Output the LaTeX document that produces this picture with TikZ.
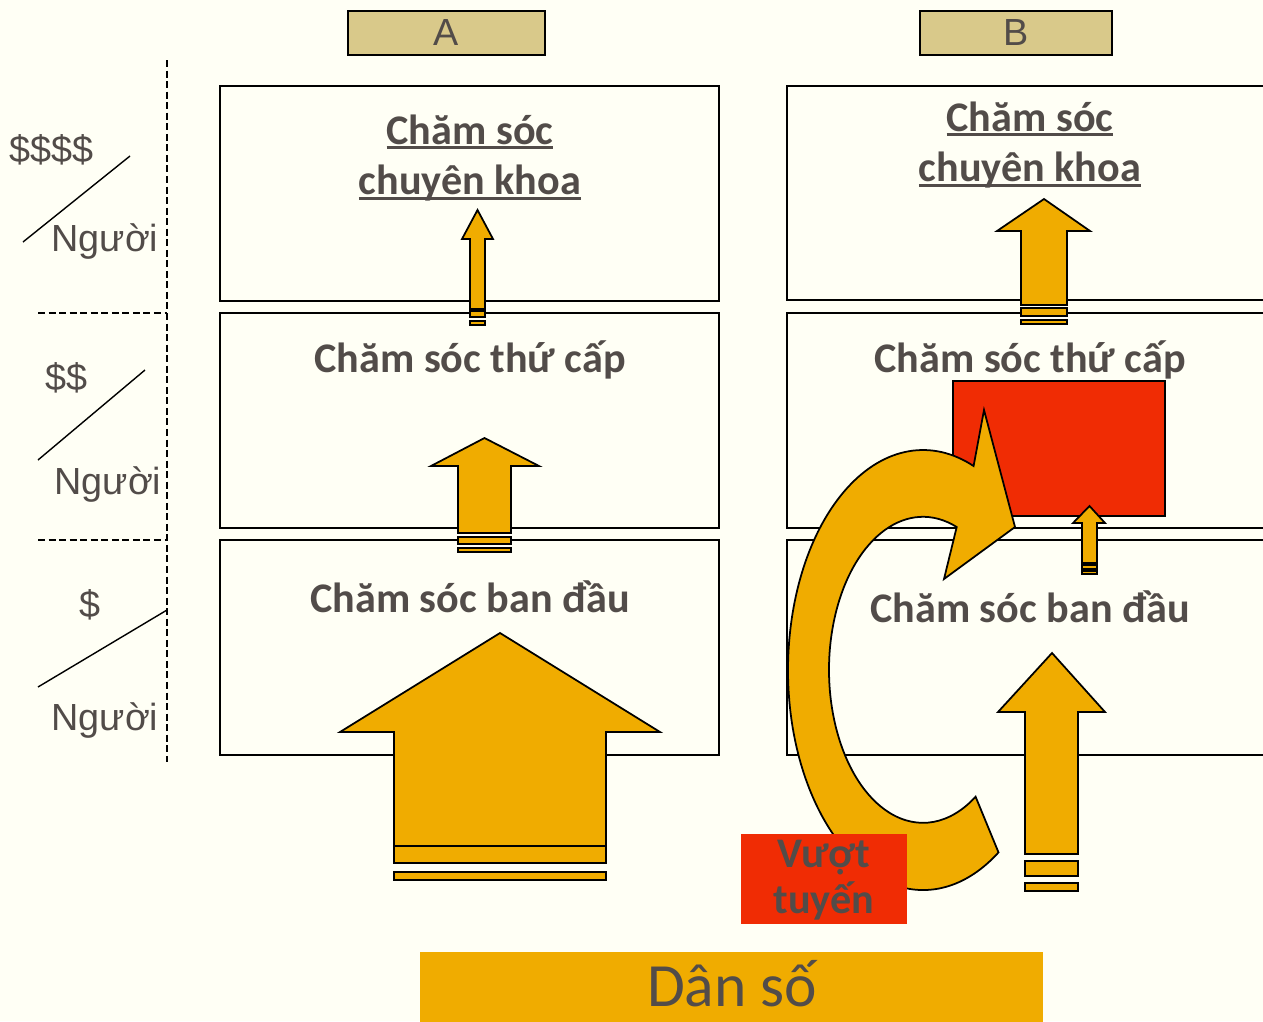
\documentclass[tikz,border=0pt]{standalone}
\usepackage{fontspec}
\setmainfont{Carlito}
\newfontfamily\arialfont{Liberation Sans}
\definecolor{bgcream}{HTML}{FFFFF5}
\definecolor{txtgrey}{HTML}{524C49}
\definecolor{arrorange}{HTML}{F0AC00}
\definecolor{flagred}{HTML}{F02C04}
\definecolor{headtan}{HTML}{D9C98A}
\newcommand{\ulbar}[1]{\setbox0\hbox{#1}\rlap{\rule[-2.6pt]{\wd0}{1.3pt}}\box0}
\tikzset{
  level/.style={draw=black, line width=1pt},
  blockarr/.style={fill=arrorange, draw=black, line width=1pt, line join=miter},
  title/.style={text=txtgrey, font=\bfseries\fontsize{24}{29}\selectfont, align=center},
  side/.style={text=txtgrey, font=\arialfont\fontsize{21.5}{26}\selectfont, inner sep=0pt},
  header/.style={fill=headtan, draw=black, line width=1pt, text=txtgrey, font=\arialfont\fontsize{21.5}{26}\selectfont, minimum height=0.88cm, inner sep=0pt},
  guide/.style={line width=0.8pt, dash pattern=on 4pt off 2pt},
}
\begin{document}
\begin{tikzpicture}[x=0.02cm, y=-0.02cm]
\fill[bgcream] (0,0) rectangle (1263,1021);
\useasboundingbox (0,0) rectangle (1263,1021);
\begin{scope}
\clip (0,0) rectangle (1263,1021);

% cost per person scale
\draw[guide] (167,60) -- (167,762);
\draw[guide] (38,313) -- (167,313);
\draw[guide] (38,540) -- (167,540);
\draw[line width=0.8pt] (23,242) -- (130,156);
\draw[line width=0.8pt] (38,460) -- (145,370);
\draw[line width=0.8pt] (38,687) -- (167,610);
\node[side] (costHigh) at (52,150) {\$\$\$\$};
\node[side] (perHigh) at (105,242) {Người};
\node[side] (costMid) at (67,378) {\$\$};
\node[side] (perMid) at (108,485) {Người};
\node[side] (costLow) at (90,605) {\$};
\node[side] (perLow) at (105,720) {Người};

% headers
\node[header, minimum width=3.94cm] (headA) at (446.5,33) {A};
\node[header, minimum width=3.84cm] (headB) at (1016,33) {B};

% column A
\draw[level] (220,86) rectangle (719,301);
\draw[level] (220,313) rectangle (719,528);
\draw[level] (220,540) rectangle (719,755);
\draw[blockarr] (470,309) -- (470,239) -- (462,239) -- (477.5,210) -- (493,239) -- (485,239) -- (485,309) -- cycle;
\draw[blockarr] (470,311) rectangle (485,317);
\draw[blockarr] (470,321) rectangle (485,325);
\draw[blockarr] (458,533) -- (458,466) -- (431,466) -- (484.5,438) -- (539,466) -- (511,466) -- (511,533) -- cycle;
\draw[blockarr] (458,537) rectangle (511,544);
\draw[blockarr] (458,548) rectangle (511,552);
\draw[blockarr] (394,846) -- (394,732) -- (340,732) -- (500,633) -- (660,732) -- (606,732) -- (606,846) -- cycle;
\draw[blockarr] (394,846) rectangle (606,863);
\draw[blockarr] (394,872) rectangle (606,880);
\node[title] (specA) at (470,158) {\ulbar{Chăm sóc}\\\ulbar{chuyên khoa}};
\node[title] (secA) at (470,360) {Chăm sóc thứ cấp};
\node[title] (primA) at (470,597) {Chăm sóc ban đầu};

% column B
\draw[level] (787,86) rectangle (1290,300);
\draw[level] (787,313) rectangle (1290,528);
\draw[level] (787,540) rectangle (1290,755);
\draw[fill=flagred, draw=black, line width=1pt] (953,381) rectangle (1165,516);
\draw[blockarr] (1021,305) -- (1021,231) -- (997,231) -- (1044,199) -- (1090,231) -- (1067,231) -- (1067,305) -- cycle;
\draw[blockarr] (1021,308) rectangle (1067,316);
\draw[blockarr] (1021,320) rectangle (1067,324);
\draw[blockarr] (1082,563) -- (1082,523) -- (1073,523) -- (1089.5,506) -- (1105,523) -- (1097,523) -- (1097,563) -- cycle;
\draw[blockarr] (1082,565) rectangle (1097,569);
\draw[blockarr] (1082,571) rectangle (1097,574);
\draw[blockarr] (1025,854) -- (1025,712) -- (998,712) -- (1052,653) -- (1105,712) -- (1078,712) -- (1078,854) -- cycle;
\draw[blockarr] (1025,861) rectangle (1078,876);
\draw[blockarr] (1025,883) rectangle (1078,891);
% bypass loop
\draw[blockarr] (998.5,852.4) arc[start angle=56, end angle=292, x radius=135, y radius=220]
  -- (984,410) -- (1015,527) -- (944,579) -- (956.7,527)
  arc[start angle=291, end angle=56, x radius=94, y radius=153] -- cycle;
\fill[flagred] (741,834) rectangle (907,924);
\node[title, font=\bfseries\fontsize{24}{26}\selectfont] (bypass) at (824,880) {Vượt\\tuyến};
\node[title] (specB) at (1030,145) {\ulbar{Chăm sóc}\\\ulbar{chuyên khoa}};
\node[title] (secB) at (1030,360) {Chăm sóc thứ cấp};
\node[title] (primB) at (1030,607) {Chăm sóc ban đầu};

% population
\fill[arrorange] (420,952) rectangle (1043,1030);
\node[text=txtgrey, font=\fontsize{35}{40}\selectfont] (popul) at (732,984) {Dân số};
\end{scope}
\end{tikzpicture}
\end{document}
